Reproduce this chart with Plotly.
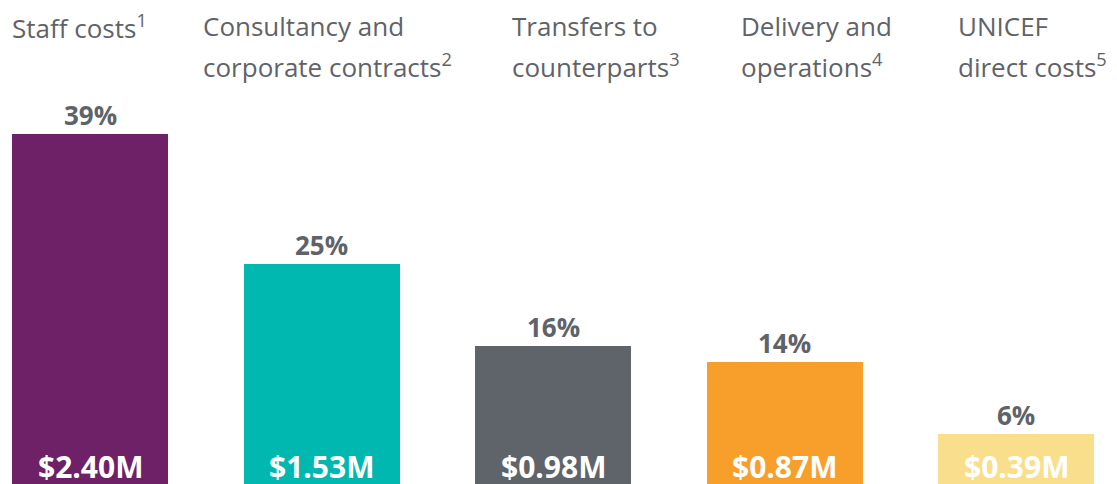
import plotly.graph_objects as go

# Expenditure breakdown
categories = ["Staff costs", "Consultancy and corporate contracts",
              "Transfers to counterparts", "Delivery and operations",
              "UNICEF direct costs"]
header_lines = [
    ["Staff costs<sup>1</sup>"],
    ["Consultancy and", "corporate contracts<sup>2</sup>"],
    ["Transfers to", "counterparts<sup>3</sup>"],
    ["Delivery and", "operations<sup>4</sup>"],
    ["UNICEF", "direct costs<sup>5</sup>"],
]
amounts_musd = [2.40, 1.53, 0.98, 0.87, 0.39]
amount_labels = ["$2.40M", "$1.53M", "$0.98M", "$0.87M", "$0.39M"]
shares_pct = [39, 25, 16, 14, 6]

colors = ["#6F2168", "#00B8B0", "#5F636A", "#F79E2B", "#F9DF8B"]
text_gray = "#5F6369"
FONT = "Open Sans"

W, H = 1117, 484
header_left_px = [10, 201, 510, 739, 956]

fig = go.Figure()
fig.add_trace(go.Bar(
    x=list(range(len(categories))),
    y=amounts_musd,
    marker=dict(color=colors, line=dict(width=0)),
    width=0.674,
    hoverinfo="skip",
))

# share labels above each bar
for i, (v, p) in enumerate(zip(amounts_musd, shares_pct)):
    fig.add_annotation(
        x=i, y=v, xref="x", yref="y",
        text=f"<b>{p}%</b>", showarrow=False,
        yanchor="bottom", yshift=-1,
        font=dict(family=FONT, size=26, color=text_gray),
    )
    # amount labels at the foot of each bar
    fig.add_annotation(
        x=i, y=0, xref="x", yref="paper",
        text=f"<b>{amount_labels[i]}</b>", showarrow=False,
        yanchor="bottom", yshift=-5,
        font=dict(family=FONT, size=30, color="white"),
    )

# category headers
for i, lines in enumerate(header_lines):
    for j, line in enumerate(lines):
        fig.add_annotation(
            x=header_left_px[i] / W, y=1, xref="paper", yref="paper",
            text=line, showarrow=False,
            xanchor="left", yanchor="top", yshift=-6 - 39 * j,
            font=dict(family=FONT, size=26, color=text_gray),
        )

fig.update_layout(
    width=W, height=H,
    margin=dict(l=0, r=0, t=0, b=0),
    paper_bgcolor="white", plot_bgcolor="white",
    showlegend=False,
    bargap=0,
    xaxis=dict(range=[-0.389, 4.436], visible=False, fixedrange=True),
    yaxis=dict(range=[0.054, 0.054 + H / 149.1], visible=False, fixedrange=True),
)

fig.write_html("out.html")
